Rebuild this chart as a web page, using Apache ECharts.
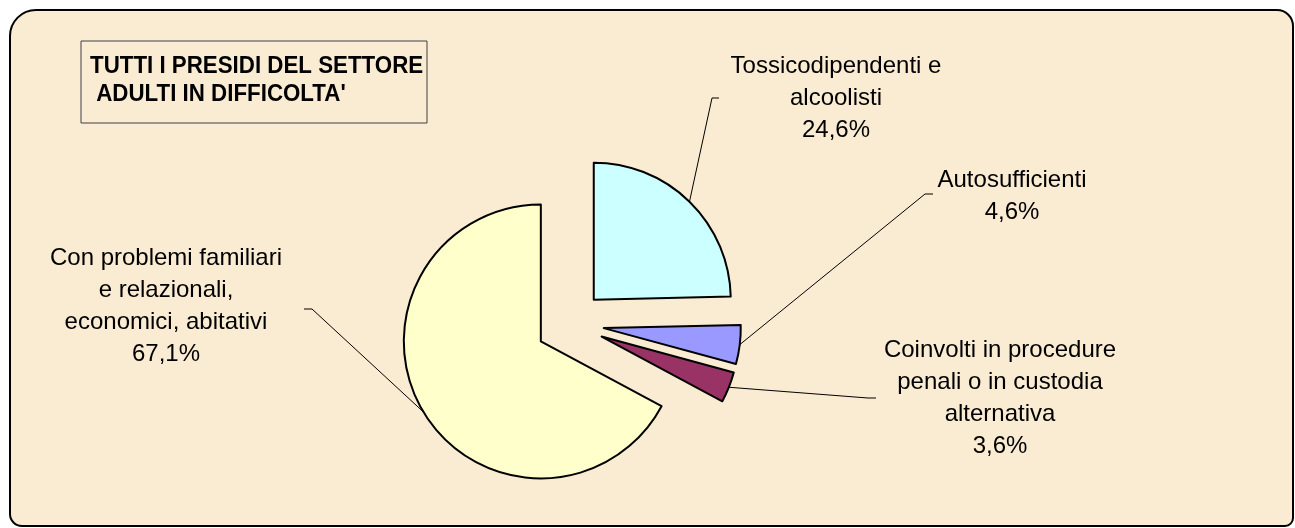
<!DOCTYPE html>
<html>
<head>
<meta charset="utf-8">
<script src="https://cdn.jsdelivr.net/npm/echarts@6/dist/echarts.min.js"></script>
<style>
  html, body { margin: 0; padding: 0; background: #ffffff; }
  #chart { width: 1295px; height: 528px; }
</style>
</head>
<body>
<div id="chart"></div>
<script>
// Categories and their shares (percent)
const categories = [
  "Tossicodipendenti e\nalcoolisti",
  "Autosufficienti",
  "Coinvolti in procedure\npenali o in custodia\nalternativa",
  "Con problemi familiari\ne relazionali,\neconomici, abitativi"
];
const shares = [24.6, 4.6, 3.6, 67.1];
const sliceColors = ["#CCFFFF", "#9999FF", "#993366", "#FFFFCC"];
const titleLines = ["TUTTI I PRESIDI DEL SETTORE", " ADULTI IN DIFFICOLTA'"];

// Pie geometry (all slices pulled out from the centre)
const PIE_CENTER = [570, 324];
const PIE_RADIUS = 137;
const EXPLODE = 34;

// Label block centres and the elbow of each leader line
const labelPlacement = [
  { x: 836,  y: 98,  elbow: [[712, 98], [719, 98]] },
  { x: 1012, y: 196, elbow: [[925, 194], [933, 194]] },
  { x: 1000, y: 398, elbow: [[868, 398], [876, 398]] },
  { x: 166,  y: 306, elbow: [[312, 309], [304, 309]] }
];

const LABEL_FONT = "24px 'Liberation Sans', Arial, sans-serif";
const LABEL_LINE_HEIGHT = 32;

const total = shares.reduce((a, b) => a + b, 0);
function midAngleDeg(i) {
  let before = 0;
  for (let k = 0; k < i; k++) before += shares[k];
  return (before + shares[i] / 2) / total * 360;
}
// Point on the outer arc of an exploded slice, at its mid angle
function edgePoint(i) {
  const a = midAngleDeg(i) * Math.PI / 180;
  const d = PIE_RADIUS + EXPLODE;
  return [PIE_CENTER[0] + d * Math.sin(a), PIE_CENTER[1] - d * Math.cos(a)];
}
const fmt = v => v.toFixed(1).replace(".", ",") + "%";

// Slice labels and their leader lines
const labelGraphics = [];
categories.forEach((name, i) => {
  const lp = labelPlacement[i];
  labelGraphics.push({
    type: "polyline",
    silent: true,
    z: 5,
    shape: { points: [edgePoint(i), lp.elbow[0], lp.elbow[1]] },
    style: { stroke: "#000000", lineWidth: 1, fill: null }
  });
  labelGraphics.push({
    type: "text",
    silent: true,
    z: 5,
    x: lp.x,
    y: lp.y,
    style: {
      text: name + "\n" + fmt(shares[i]),
      font: LABEL_FONT,
      lineHeight: LABEL_LINE_HEIGHT,
      fill: "#000000",
      align: "center",
      verticalAlign: "middle"
    }
  });
});

const chart = echarts.init(document.getElementById("chart"), null, { renderer: "canvas" });

chart.setOption({
  animation: false,
  backgroundColor: "#ffffff",
  graphic: [
    {
      type: "rect",
      z: -10,
      silent: true,
      shape: { x: 10, y: 10, width: 1283, height: 516, r: [26, 16, 8, 12] },
      style: { fill: "#FAEBD3", stroke: "#000000", lineWidth: 2 }
    },
    {
      type: "rect",
      z: -5,
      silent: true,
      shape: { x: 81, y: 41, width: 346, height: 82 },
      style: { fill: "transparent", stroke: "#404040", lineWidth: 1 }
    },
    {
      type: "text",
      z: -5,
      silent: true,
      x: 90,
      y: 52,
      scaleX: 0.93,
      style: {
        text: titleLines.join("\n"),
        font: "bold 24px 'Liberation Sans', Arial, sans-serif",
        lineHeight: 28,
        fill: "#000000",
        align: "left",
        verticalAlign: "top"
      }
    }
  ].concat(labelGraphics),
  series: [
    {
      type: "pie",
      center: PIE_CENTER,
      radius: PIE_RADIUS,
      startAngle: 90,
      clockwise: true,
      selectedMode: "multiple",
      selectedOffset: EXPLODE,
      silent: true,
      emphasis: { disabled: true },
      itemStyle: { borderColor: "#000000", borderWidth: 2 },
      label: { show: false },
      labelLine: { show: false },
      data: categories.map((name, i) => ({
        name: name,
        value: shares[i],
        selected: true,
        itemStyle: { color: sliceColors[i] },
        select: { itemStyle: { color: sliceColors[i], borderColor: "#000000", borderWidth: 2 } }
      }))
    }
  ]
});
</script>
</body>
</html>
